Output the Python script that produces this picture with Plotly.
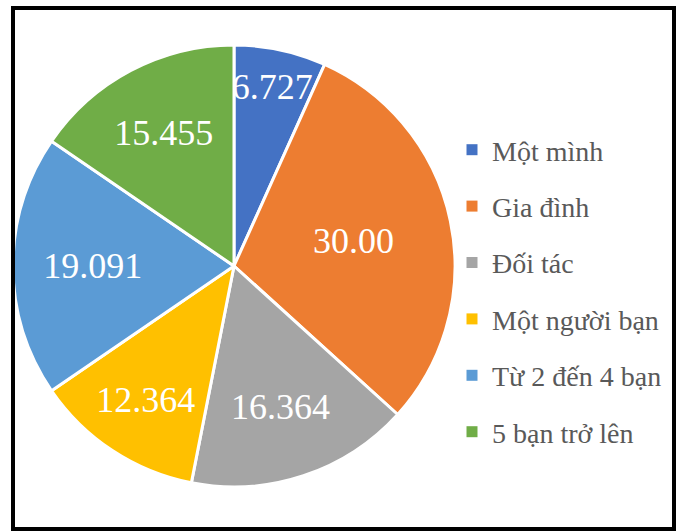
import plotly.graph_objects as go

categories = ["Một mình", "Gia đình", "Đối tác", "Một người bạn", "Từ 2 đến 4 bạn", "5 bạn trở lên"]
values = [6.727, 30.00, 16.364, 12.364, 19.091, 15.455]
value_labels = ["6.727", "30.00", "16.364", "12.364", "19.091", "15.455"]
colors = ["#4472C4", "#ED7D31", "#A5A5A5", "#FFC000", "#5B9BD5", "#70AD47"]

W, H = 680, 531
SERIF = "'Liberation Serif', 'Times New Roman', 'DejaVu Serif', serif"
fig = go.Figure()

fig.add_trace(go.Pie(
    labels=categories,
    values=values,
    text=value_labels,
    textinfo="text",
    textposition="inside",
    insidetextorientation="horizontal",
    textfont=dict(family=SERIF, size=36, color="white"),
    sort=False,
    direction="clockwise",
    rotation=0,
    marker=dict(colors=colors, line=dict(color="white", width=3)),
    domain=dict(x=[13 / W, 455 / W], y=[42 / H, 488 / H]),
    showlegend=False,
    hoverinfo="label+value",
))

for name, col in zip(categories, colors):
    fig.add_trace(go.Scatter(
        x=[None], y=[None], mode="markers", name=name,
        legendgroup=name,
        marker=dict(symbol="square", size=11, color=col),
        showlegend=True,
    ))

fig.update_layout(
    width=W, height=H,
    margin=dict(l=0, r=0, t=0, b=0),
    paper_bgcolor="white",
    plot_bgcolor="white",
    font=dict(family=SERIF),
    xaxis=dict(visible=False),
    yaxis=dict(visible=False),
    uniformtext=dict(minsize=36, mode="show"),
    legend=dict(
        x=452 / W, xanchor="left",
        y=1 - 125 / H, yanchor="top",
        font=dict(family=SERIF, size=28, color="#595959"),
        itemwidth=30,
        tracegroupgap=17,
        bgcolor="rgba(0,0,0,0)",
    ),
    shapes=[dict(
        type="rect", xref="paper", yref="paper",
        x0=13 / W, x1=674 / W, y0=1 - 529 / H, y1=1 - 8 / H,
        line=dict(color="black", width=4),
    )],
)

fig.write_html(
    "out.html",
    config={"displayModeBar": False},
    post_script="document.body.style.margin='0';document.body.style.overflow='hidden';",
)
